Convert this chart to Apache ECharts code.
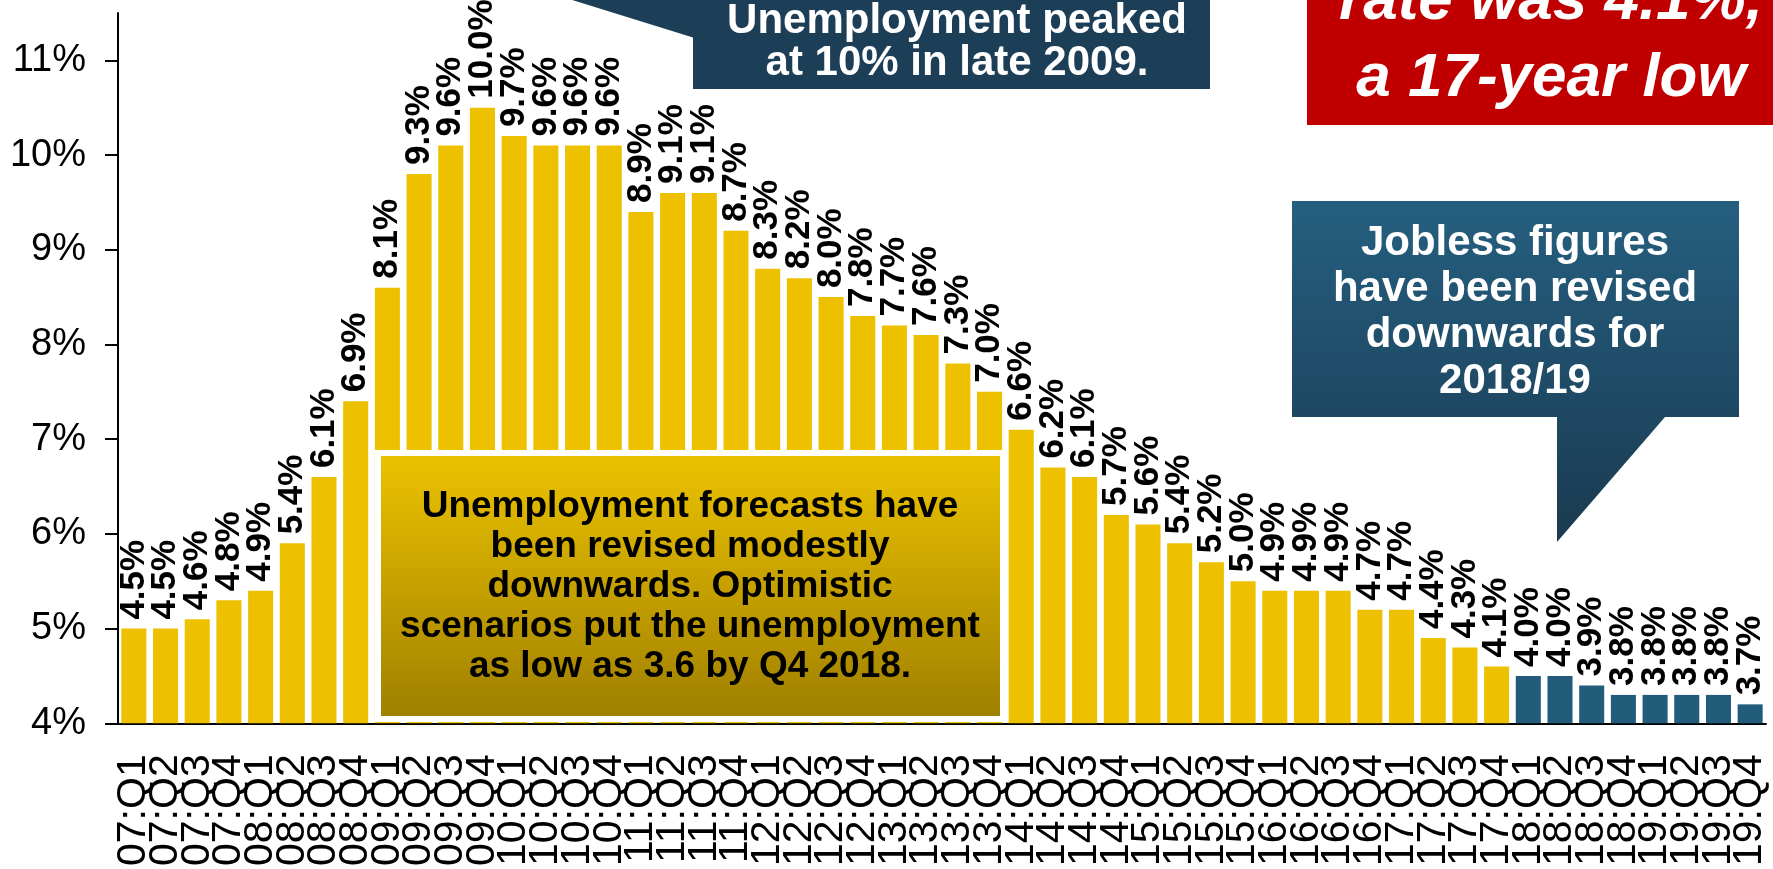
<!DOCTYPE html>
<html>
<head>
<meta charset="utf-8">
<script src="https://cdn.jsdelivr.net/npm/echarts@6.0.0/dist/echarts.min.js"></script>
<style>
  html, body { margin: 0; padding: 0; background: #fff; }
  #chart { width: 1773px; height: 869px; }
</style>
</head>
<body>
<div id="chart"></div>
<script>
  // quarters on the x axis
  const quarters = [
    '07:Q1', '07:Q2', '07:Q3', '07:Q4', '08:Q1', '08:Q2', '08:Q3', '08:Q4',
    '09:Q1', '09:Q2', '09:Q3', '09:Q4', '10:Q1', '10:Q2', '10:Q3', '10:Q4',
    '11:Q1', '11:Q2', '11:Q3', '11:Q4', '12:Q1', '12:Q2', '12:Q3', '12:Q4',
    '13:Q1', '13:Q2', '13:Q3', '13:Q4', '14:Q1', '14:Q2', '14:Q3', '14:Q4',
    '15:Q1', '15:Q2', '15:Q3', '15:Q4', '16:Q1', '16:Q2', '16:Q3', '16:Q4',
    '17:Q1', '17:Q2', '17:Q3', '17:Q4', '18:Q1', '18:Q2', '18:Q3', '18:Q4',
    '19:Q1', '19:Q2', '19:Q3', '19:Q4'
  ]
  // unemployment rate, % (as printed on the bars)
  const rates = [
    4.5, 4.5, 4.6, 4.8, 4.9, 5.4, 6.1, 6.9,
    8.1, 9.3, 9.6, 10.0, 9.7, 9.6, 9.6, 9.6,
    8.9, 9.1, 9.1, 8.7, 8.3, 8.2, 8.0, 7.8,
    7.7, 7.6, 7.3, 7.0, 6.6, 6.2, 6.1, 5.7,
    5.6, 5.4, 5.2, 5.0, 4.9, 4.9, 4.9, 4.7,
    4.7, 4.4, 4.3, 4.1, 4.0, 4.0, 3.9, 3.8,
    3.8, 3.8, 3.8, 3.7
  ]
  // quarters whose figures were revised (drawn blue)
  const revisedFrom = '18:Q1'
  // tick labels of the printed y axis
  const yTicks = [4, 5, 6, 7, 8, 9, 10, 11]

  const YELLOW = '#EDC000'
  const BLUE = '#235B7A'
  const FONT = '"Liberation Sans", Arial, sans-serif'

  const firstRevised = quarters.indexOf(revisedFrom)
  const barData = rates.map(function (v, i) {
    return { value: v, itemStyle: { color: i >= firstRevised ? BLUE : YELLOW } }
  })

  const chart = echarts.init(document.getElementById('chart'))
  chart.setOption({
    animation: false,
    grid: { left: 118, right: 7, top: 13, bottom: 138 },
    xAxis: {
      type: 'category',
      data: quarters,
      axisLine: { lineStyle: { color: '#000', width: 2 } },
      axisTick: { length: 13, lineStyle: { color: '#000', width: 2 } },
      axisLabel: {
        interval: 0,
        rotate: 90,
        margin: 31,
        color: '#000',
        fontSize: 41,
        fontFamily: FONT
      }
    },
    yAxis: [{
      // printed axis
      type: 'value',
      min: 4,
      max: 11.5,
      splitLine: { show: false },
      axisLine: { show: true, lineStyle: { color: '#000', width: 2 } },
      axisTick: { show: true, length: 13, customValues: yTicks, lineStyle: { color: '#000', width: 2 } },
      axisLabel: {
        customValues: yTicks,
        margin: 32,
        color: '#000',
        fontSize: 38,
        fontFamily: FONT,
        formatter: '{value}%'
      }
    }, {
      // scale the bars are drawn on
      type: 'value',
      show: false,
      min: 3.5,
      max: 11,
      splitLine: { show: false }
    }],
    series: [{
      type: 'bar',
      yAxisIndex: 1,
      data: barData,
      barCategoryGap: '21%',
      label: {
        show: true,
        position: 'top',
        rotate: 90,
        align: 'left',
        verticalAlign: 'middle',
        distance: 9,
        color: '#000',
        fontSize: 35,
        fontWeight: 'bold',
        fontFamily: FONT,
        formatter: function (p) { return p.value.toFixed(1) + '%' }
      }
    }],
    graphic: [
      // forecast box over the bars
      {
        type: 'rect', z: 100,
        shape: { x: 375, y: 450, width: 632, height: 272 },
        style: { fill: '#fff' }
      },
      {
        type: 'rect', z: 101,
        shape: { x: 381, y: 456, width: 619, height: 260 },
        style: {
          fill: new echarts.graphic.LinearGradient(0, 0, 0, 1, [
            { offset: 0, color: '#EBC200' },
            { offset: 1, color: '#A08000' }
          ])
        }
      },
      {
        type: 'text', z: 102,
        style: {
          x: 690, y: 487,
          text: 'Unemployment forecasts have\nbeen revised modestly\ndownwards. Optimistic\nscenarios put the unemployment\nas low as 3.6 by Q4 2018.',
          font: 'bold 37px ' + FONT,
          lineHeight: 40,
          align: 'center',
          verticalAlign: 'top',
          fill: '#000'
        }
      },
      // peak callout
      {
        type: 'polygon', z: 100,
        shape: { points: [[540, -10], [693, 37.5], [693, -10]] },
        style: { fill: '#1C3F57' }
      },
      {
        type: 'rect', z: 100,
        shape: { x: 693, y: -10, width: 517, height: 99 },
        style: { fill: '#1C3F57' }
      },
      {
        type: 'text', z: 102,
        style: {
          x: 957, y: 0,
          text: 'Unemployment peaked\nat 10% in late 2009.',
          font: 'bold 42px ' + FONT,
          lineHeight: 42,
          align: 'center',
          verticalAlign: 'top',
          fill: '#fff'
        }
      },
      // red headline box
      {
        type: 'rect', z: 100,
        shape: { x: 1307, y: -10, width: 500, height: 135 },
        style: { fill: '#C00000' }
      },
      {
        type: 'text', z: 102,
        style: {
          x: 1551, y: -37,
          text: 'rate was 4.1%,\na 17-year low',
          font: 'italic bold 62px ' + FONT,
          lineHeight: 77,
          align: 'center',
          verticalAlign: 'top',
          fill: '#fff'
        }
      },
      // revision callout
      {
        type: 'polygon', z: 100,
        shape: {
          points: [[1292, 201], [1739, 201], [1739, 417], [1665, 417], [1557, 542], [1557, 417], [1292, 417]]
        },
        style: {
          fill: new echarts.graphic.LinearGradient(0, 0, 0, 1, [
            { offset: 0, color: '#255F80' },
            { offset: 1, color: '#1A3A50' }
          ])
        }
      },
      {
        type: 'text', z: 102,
        style: {
          x: 1515, y: 220,
          text: 'Jobless figures\nhave been revised\ndownwards for\n2018/19',
          font: 'bold 42px ' + FONT,
          lineHeight: 46,
          align: 'center',
          verticalAlign: 'top',
          fill: '#fff'
        }
      }
    ]
  })
</script>
</body>
</html>
